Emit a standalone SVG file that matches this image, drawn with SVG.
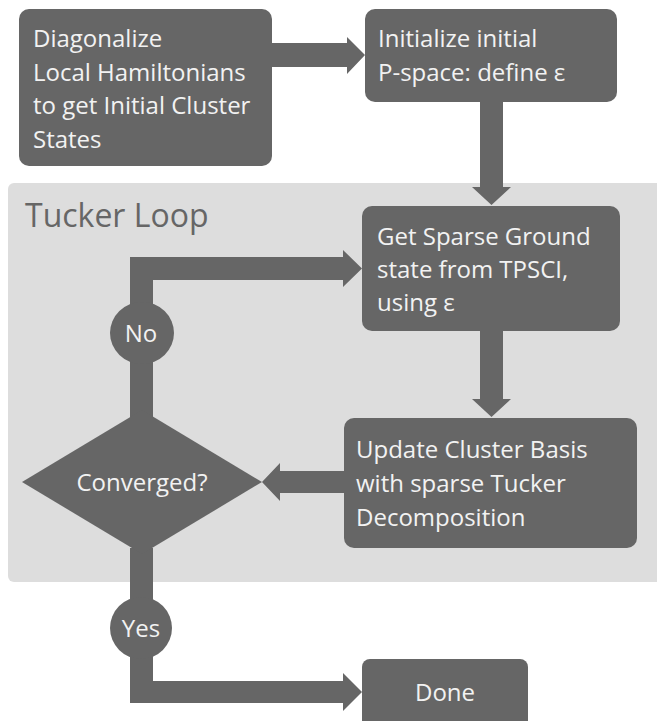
<svg xmlns="http://www.w3.org/2000/svg" width="657" height="721" viewBox="0 0 657 721">
<style>
.node{fill:#666666}
.conn{fill:#666666}
.t{font-family:"Open Sans","Noto Sans","Liberation Sans",sans-serif;font-size:24px;fill:#f2f2f2}
.title{font-family:"Open Sans","Noto Sans","Liberation Sans",sans-serif;font-size:32px;fill:#666666}
</style>
<rect width="657" height="721" fill="#ffffff"/>
<g id="tucker-loop">
<rect x="8" y="183" width="660" height="399" rx="6" fill="#dddddd"/>
<text class="title" x="25" y="227">Tucker Loop</text>
</g>
<g id="connectors">
<polygon class="conn" points="272,43 347,43 347,37 365,55 347,74 347,67 272,67"/>
<polygon class="conn" points="480,102 503,102 503,187 511,187 491.5,205 472,187 480,187"/>
<polygon class="conn" points="480,331 503,331 503,399 511,399 491.5,417 472,399 480,399"/>
<polygon class="conn" points="344,471 280,471 280,463 262,482 280,501 280,493 344,493"/>
<polygon class="conn" points="130,420 130,257 343,257 343,250 362,268.5 343,287 343,280 153,280 153,420"/>
<polygon class="conn" points="130,548 130,703 343,703 343,711 362,692 343,673 343,681 153,681 153,548"/>
</g>
<g id="box1">
<rect class="node" x="19" y="9" width="253" height="157" rx="10"/>
<text class="t" x="33" y="47">Diagonalize</text>
<text class="t" x="33" y="80.5">Local Hamiltonians</text>
<text class="t" x="33" y="114">to get Initial Cluster</text>
<text class="t" x="33" y="147.5">States</text>
</g>
<g id="box2">
<rect class="node" x="365" y="9" width="252" height="93" rx="10"/>
<text class="t" x="378" y="47">Initialize initial</text>
<text class="t" x="378" y="80.5">P-space: define ε</text>
</g>
<g id="box3">
<rect class="node" x="362" y="206" width="258" height="125" rx="10"/>
<text class="t" x="377" y="245">Get Sparse Ground</text>
<text class="t" x="377" y="278">state from TPSCI,</text>
<text class="t" x="377" y="311">using ε</text>
</g>
<g id="box4">
<rect class="node" x="344" y="418" width="293" height="130" rx="10"/>
<text class="t" x="356" y="458">Update Cluster Basis</text>
<text class="t" x="356" y="492">with sparse Tucker</text>
<text class="t" x="356" y="526">Decomposition</text>
</g>
<g id="converged">
<polygon class="node" points="142,410 262,482 142,554 22,482"/>
<text class="t" x="142" y="491" text-anchor="middle">Converged?</text>
</g>
<g id="no">
<ellipse class="node" cx="142" cy="333" rx="32" ry="31"/>
<text class="t" x="141" y="342" text-anchor="middle">No</text>
</g>
<g id="yes">
<ellipse class="node" cx="141" cy="628" rx="31" ry="31"/>
<text class="t" x="141" y="637" text-anchor="middle">Yes</text>
</g>
<g id="done">
<rect class="node" x="362" y="659" width="166" height="80" rx="8"/>
<text class="t" x="445" y="701" text-anchor="middle">Done</text>
</g>
</svg>
